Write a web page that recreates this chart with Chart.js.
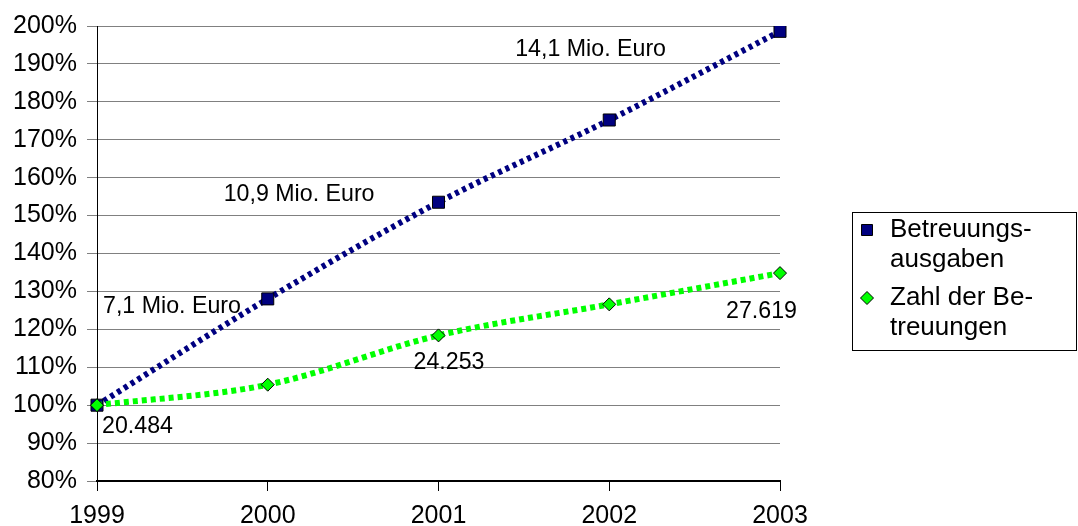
<!DOCTYPE html>
<html>
<head>
<meta charset="utf-8">
<script src="https://cdn.jsdelivr.net/npm/chart.js@4/dist/chart.umd.min.js"></script>
<style>
  html, body { margin: 0; padding: 0; background: #ffffff; }
  #wrap { width: 1078px; height: 526px; }
</style>
</head>
<body>
<div id="wrap"><canvas id="c" width="1078" height="526"></canvas></div>
<script>
// Jahre
const years = ['1999', '2000', '2001', '2002', '2003'];
// Betreuungsausgaben in Mio. Euro
const ausgabenMio = [7.1, 9.09, 10.9, 12.44, 14.1];
// Zahl der Betreuungen
const betreuungen = [20484, 21590, 24253, 25930, 27619];
// Beschriftungen an einzelnen Punkten
const ausgabenLabels = ['7,1 Mio. Euro', null, '10,9 Mio. Euro', null, '14,1 Mio. Euro'];
const betreuungenLabels = ['20.484', null, '24.253', null, '27.619'];
// Legendentexte (mit Worttrennung)
const ausgabenName = ['Betreuungs-', 'ausgaben'];
const betreuungenName = ['Zahl der Be-', 'treuungen'];
// y-Achse in Prozent
const yMin = 80;
const yMax = 200;
const yStep = 10;

// Index relativ zum Basisjahr 1999 (= 100 %)
const toIndex = (arr) => arr.map(v => v / arr[0] * 100);

const FONT = '"Liberation Sans", Arial, sans-serif';
const AXIS_FONT_SIZE = 25;
const LABEL_FONT_SIZE = 23.2;
const LEGEND_FONT_SIZE = 26;
const NAVY = '#000080';
const GREEN = '#00ff00';

// Lage der Punktbeschriftungen relativ zum jeweiligen Punkt
const labelPlacement = {
  0: [ { dx: 6, dy: -99, align: 'left' }, null, { dx: -64, dy: -8, align: 'right' }, null, { dx: -114, dy: 18, align: 'right' } ],
  1: [ { dx: 5, dy: 21, align: 'left' }, null, { dx: -25, dy: 27, align: 'left' }, null, { dx: -54, dy: 39, align: 'left' } ]
};
const pointTexts = { 0: ausgabenLabels, 1: betreuungenLabels };

const pointLabelPlugin = {
  id: 'pointLabels',
  afterDatasetsDraw(chart) {
    const ctx = chart.ctx;
    ctx.save();
    ctx.font = LABEL_FONT_SIZE + 'px ' + FONT;
    ctx.fillStyle = '#000';
    ctx.textBaseline = 'middle';
    Object.keys(pointTexts).forEach(di => {
      const meta = chart.getDatasetMeta(Number(di));
      pointTexts[di].forEach((txt, i) => {
        const pl = labelPlacement[di][i];
        if (!txt || !pl) return;
        const pt = meta.data[i];
        ctx.textAlign = pl.align;
        ctx.fillText(txt, pt.x + pl.dx, pt.y + pl.dy);
      });
    });
    ctx.restore();
  }
};

const legendItems = [
  { lines: ausgabenName, color: NAVY, shape: 'square' },
  { lines: betreuungenName, color: GREEN, shape: 'diamond' }
];

const boxLegendPlugin = {
  id: 'boxLegend',
  afterDraw(chart) {
    const ctx = chart.ctx;
    const left = 852, top = 212, right = 1077, bottom = 350;
    ctx.save();
    ctx.strokeStyle = '#000';
    ctx.lineWidth = 1;
    ctx.strokeRect(left + 0.5, top + 0.5, right - left - 1, bottom - top);
    ctx.font = LEGEND_FONT_SIZE + 'px ' + FONT;
    ctx.fillStyle = '#000';
    ctx.textAlign = 'left';
    ctx.textBaseline = 'middle';
    let y = 230;
    legendItems.forEach(item => {
      const mx = 867;
      ctx.beginPath();
      if (item.shape === 'square') {
        ctx.rect(mx - 5.5, y - 5.5, 11, 11);
      } else {
        ctx.moveTo(mx, y - 6.5);
        ctx.lineTo(mx + 6.5, y);
        ctx.lineTo(mx, y + 6.5);
        ctx.lineTo(mx - 6.5, y);
        ctx.closePath();
      }
      ctx.fillStyle = item.color;
      ctx.fill();
      ctx.strokeStyle = '#000';
      ctx.lineWidth = 1;
      ctx.stroke();
      ctx.fillStyle = '#000';
      item.lines.forEach((ln, k) => {
        ctx.fillText(ln, 890, y + k * 30);
      });
      y += item.lines.length * 30 + 8;
    });
    ctx.restore();
  }
};

new Chart(document.getElementById('c'), {
  type: 'line',
  data: {
    labels: years,
    datasets: [
      {
        label: ausgabenName.join(''),
        data: toIndex(ausgabenMio),
        borderColor: NAVY,
        backgroundColor: NAVY,
        borderWidth: 6,
        borderDash: [4, 4],
        borderCapStyle: 'butt',
        cubicInterpolationMode: 'monotone',
        pointStyle: 'rect',
        pointRadius: 8.5,
        pointHoverRadius: 8.5,
        pointBackgroundColor: NAVY,
        pointBorderColor: '#000',
        pointBorderWidth: 1,
        fill: false,
        order: 2
      },
      {
        label: betreuungenName.join(''),
        data: toIndex(betreuungen),
        borderColor: GREEN,
        backgroundColor: GREEN,
        borderWidth: 6,
        borderDash: [5, 4],
        borderCapStyle: 'butt',
        cubicInterpolationMode: 'monotone',
        pointStyle: 'rectRot',
        pointRadius: 6.5,
        pointHoverRadius: 6.5,
        pointBackgroundColor: GREEN,
        pointBorderColor: '#000',
        pointBorderWidth: 1,
        fill: false,
        order: 1
      }
    ]
  },
  options: {
    responsive: false,
    animation: false,
    devicePixelRatio: 1,
    layout: { padding: { left: 0, right: 298, top: 26, bottom: 0 } },
    plugins: {
      legend: { display: false },
      tooltip: { enabled: false },
      title: { display: false }
    },
    scales: {
      x: {
        type: 'category',
        offset: false,
        afterFit(scale) { scale.height = 45; },
        grid: {
          display: true,
          drawOnChartArea: false,
          drawTicks: true,
          tickLength: 10,
          color: '#000',
          offset: false
        },
        border: { display: true, color: '#000', width: 2 },
        ticks: {
          color: '#000',
          font: { family: FONT, size: AXIS_FONT_SIZE },
          padding: 10,
          maxRotation: 0,
          autoSkip: false
        }
      },
      y: {
        min: yMin,
        max: yMax,
        afterFit(scale) { scale.width = 97; },
        grid: {
          color: '#808080',
          lineWidth: 1,
          tickLength: 10,
          drawTicks: true
        },
        border: { display: true, color: '#000', width: 1 },
        ticks: {
          stepSize: yStep,
          color: '#000',
          padding: 10,
          font: { family: FONT, size: AXIS_FONT_SIZE },
          callback: (v) => v + '%'
        }
      }
    }
  },
  plugins: [pointLabelPlugin, boxLegendPlugin]
});
</script>
</body>
</html>
